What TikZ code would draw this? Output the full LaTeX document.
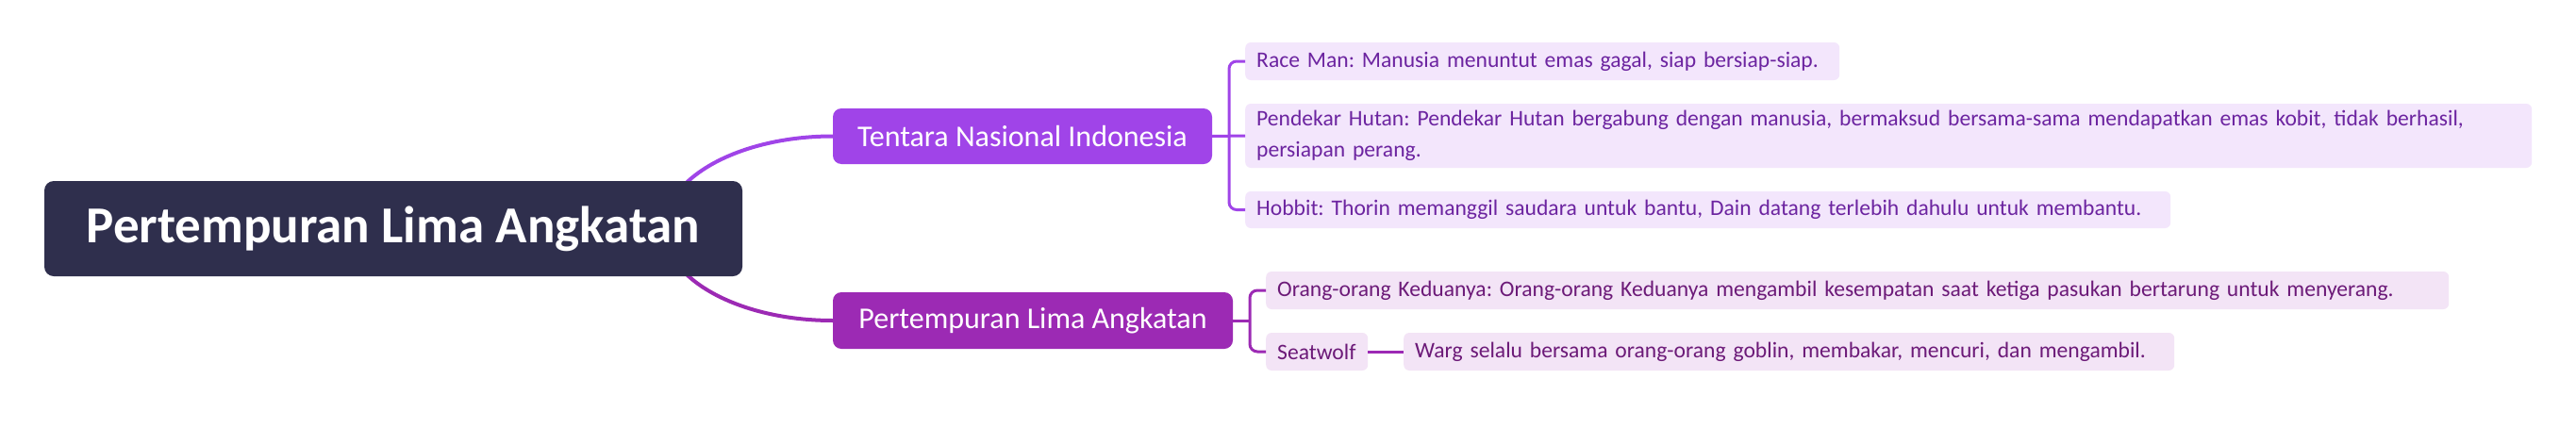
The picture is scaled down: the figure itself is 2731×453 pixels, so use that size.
\documentclass[tikz,border=0pt]{standalone}
\usepackage{fontspec}
\setmainfont{Carlito}
\usetikzlibrary{calc}
\definecolor{rootfill}{RGB}{47,47,77}
\definecolor{tnafill}{RGB}{160,68,232}
\definecolor{plafill}{RGB}{156,42,180}
\definecolor{leafA}{RGB}{243,230,252}
\definecolor{leafAtext}{RGB}{108,36,160}
\definecolor{leafB}{RGB}{243,228,246}
\definecolor{leafBtext}{RGB}{108,26,120}
\pgfdeclarelayer{background}
\pgfsetlayers{background,main}
\frenchspacing
\tikzset{
  rootbox/.style={fill=rootfill, text=white, rounded corners=10pt, inner sep=0pt,
    minimum width=740pt, minimum height=101pt, font=\fontsize{55}{66}\selectfont\bfseries},
  branchbox/.style={text=white, rounded corners=9pt, inner sep=0pt,
    minimum height=60pt, font=\fontsize{32}{38}\selectfont},
  leafbox/.style={anchor=west, rounded corners=6pt, inner xsep=12pt, inner ysep=0pt,
    align=left, font=\fontsize{23.6}{33}\selectfont},
  leafa/.style={leafbox, fill=leafA, text=leafAtext},
  leafb/.style={leafbox, fill=leafB, text=leafBtext},
  linka/.style={draw=tnafill, line width=3pt},
  linkb/.style={draw=plafill, line width=3pt},
  curvea/.style={draw=tnafill, line width=4pt},
  curveb/.style={draw=plafill, line width=4pt}
}
\begin{document}
\begin{tikzpicture}[x=1pt,y=-1pt]
\useasboundingbox (0,0) rectangle (2731,453);

\node[rootbox] (root) at (417,242.5) {Pertempuran Lima Angkatan};
\node[branchbox, fill=tnafill, minimum width=402pt, minimum height=59pt] (tna) at (1084,144.5) {Tentara Nasional Indonesia};
\node[branchbox, fill=plafill, minimum width=424pt] (pla) at (1095,340) {Pertempuran Lima Angkatan};

\node[leafa, text width=606pt, minimum height=40pt] (r1) at (1320,65) {Race Man: Manusia menuntut emas gagal, siap bersiap-siap.};
\node[leafa, text width=1340pt, minimum height=68pt] (r2) at (1320,144) {Pendekar Hutan: Pendekar Hutan bergabung dengan manusia, bermaksud bersama-sama mendapatkan emas kobit, tidak berhasil,\\persiapan perang.};
\node[leafa, text width=957pt, minimum height=39pt] (r3) at (1320,222.5) {Hobbit: Thorin memanggil saudara untuk bantu, Dain datang terlebih dahulu untuk membantu.};

\node[leafb, text width=1230pt, minimum height=40pt] (p1) at (1342,308) {Orang-orang Keduanya: Orang-orang Keduanya mengambil kesempatan saat ketiga pasukan bertarung untuk menyerang.};
\node[leafb, text width=84pt, minimum height=40pt] (p2) at (1342,373) {Seatwolf};
\node[leafb, text width=793pt, minimum height=40pt] (p3) at (1488,373) {Warg selalu bersama orang-orang goblin, membakar, mencuri, dan mengambil.};

\begin{pgfonlayer}{background}
\fill[white] (0,0) rectangle (2731,453);
\coordinate (rs) at ($(root.east)+(-83,0)$);
\coordinate (ka) at (rs |- tna.west);
\coordinate (kb) at (rs |- pla.west);
\draw[curvea] (rs) .. controls ($(rs)!0.5523!(ka)$) and ($(tna.west)!0.5523!(ka)$) .. (tna.west);
\draw[curveb] (rs) .. controls ($(rs)!0.5523!(kb)$) and ($(pla.west)!0.5523!(kb)$) .. (pla.west);
\end{pgfonlayer}

\coordinate (ba1) at ($(r1.west)+(-17,0)$);
\coordinate (ba3) at ($(r3.west)+(-17,0)$);
\draw[linka, rounded corners=8pt] (r1.west) -- (ba1) -- (ba3) -- (r3.west);
\draw[linka] (tna.east) -- (r2.west);

\coordinate (bb1) at ($(p1.west)+(-17,0)$);
\coordinate (bb2) at ($(p2.west)+(-17,0)$);
\coordinate (bbm) at (bb1 |- pla.east);
\draw[linkb, rounded corners=8pt] (p1.west) -- (bb1) -- (bb2) -- (p2.west);
\draw[linkb] (pla.east) -- (bbm);
\draw[linkb] (p2.east) -- (p3.west);
\end{tikzpicture}
\end{document}
